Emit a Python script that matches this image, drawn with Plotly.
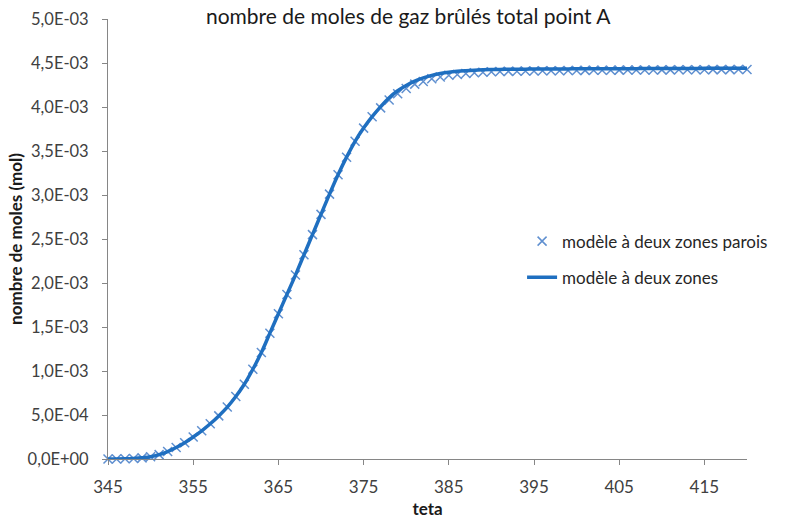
import numpy as np
import plotly.graph_objects as go

# Crank angle (degrees)
teta = list(range(345, 421))

# Burnt gas moles, two-zone model with wall losses (x 1e-3 mol)
n_parois_milli = [
    0.000, 0.000, 0.002, 0.006, 0.013, 0.025, 0.050, 0.085, 0.130, 0.185,
    0.250, 0.320, 0.400, 0.490, 0.590, 0.710, 0.850, 1.020, 1.210, 1.430,
    1.650, 1.870, 2.090, 2.320, 2.550, 2.780, 3.010, 3.230, 3.430, 3.610,
    3.760, 3.890, 3.990, 4.080, 4.150, 4.210, 4.260, 4.290, 4.320, 4.340,
    4.360, 4.370, 4.380, 4.390, 4.395, 4.400, 4.403, 4.405, 4.407, 4.409,
    4.410, 4.411, 4.412, 4.413, 4.414, 4.415, 4.416, 4.417, 4.418, 4.418,
    4.419, 4.420, 4.420, 4.421, 4.421, 4.422, 4.422, 4.423, 4.423, 4.424,
    4.424, 4.425, 4.425, 4.425, 4.426, 4.426,
]

# Burnt gas moles, two-zone model (x 1e-3 mol)
n_deux_zones_milli = [
    0.000, 0.000, 0.002, 0.006, 0.013, 0.025, 0.050, 0.085, 0.130, 0.185,
    0.250, 0.320, 0.400, 0.490, 0.590, 0.710, 0.850, 1.020, 1.210, 1.430,
    1.650, 1.870, 2.090, 2.320, 2.550, 2.780, 3.010, 3.230, 3.430, 3.610,
    3.760, 3.890, 4.005, 4.105, 4.185, 4.245, 4.295, 4.330, 4.360, 4.380,
    4.395, 4.405, 4.412, 4.418, 4.422, 4.425, 4.427, 4.428, 4.429, 4.430,
    4.431, 4.432, 4.432, 4.433, 4.433, 4.434, 4.434, 4.435, 4.435, 4.435,
    4.436, 4.436, 4.436, 4.437, 4.437, 4.437, 4.438, 4.438, 4.438, 4.438,
    4.439, 4.439, 4.439, 4.439, 4.440, 4.440,
]

x_ticks = [345, 355, 365, 375, 385, 395, 405, 415]
y_ticks = [0.0, 5e-4, 1e-3, 1.5e-3, 2e-3, 2.5e-3, 3e-3, 3.5e-3, 4e-3, 4.5e-3, 5e-3]
y_tick_text = ["0,0E+00", "5,0E-04", "1,0E-03", "1,5E-03", "2,0E-03", "2,5E-03",
               "3,0E-03", "3,5E-03", "4,0E-03", "4,5E-03", "5,0E-03"]

n_parois = np.array(n_parois_milli) * 1e-3
n_deux_zones = np.array(n_deux_zones_milli) * 1e-3

FONT = "Lato, 'Open Sans', sans-serif"
AXIS_GRAY = "#868686"
TEXT_GRAY = "#404040"

fig = go.Figure()

fig.add_trace(go.Scatter(
    x=teta, y=n_parois,
    mode="markers",
    name="modèle à deux zones parois",
    marker=dict(symbol="x-thin", size=9, line=dict(width=1.5, color="#6090d0")),
    cliponaxis=False,
    legendgroup="a",
))

fig.add_trace(go.Scatter(
    x=teta, y=n_deux_zones,
    mode="lines",
    name="modèle à deux zones",
    line=dict(color="#1f6fc0", width=3.5, shape="spline"),
    cliponaxis=False,
    legendgroup="b",
))

fig.update_layout(
    width=785, height=524,
    margin=dict(l=108, r=35, t=19, b=65),
    paper_bgcolor="white",
    plot_bgcolor="white",
    font=dict(family=FONT, color=TEXT_GRAY, size=17),
    title=dict(
        text="nombre de moles de gaz brûlés total point A",
        font=dict(family=FONT, size=21, color="#1a1a1a"),
        x=0.52, xanchor="center",
        y=0.968, yanchor="middle",
    ),
    showlegend=True,
    legend=dict(
        x=0.648, xanchor="left",
        y=0.535, yanchor="top",
        font=dict(family=FONT, size=17, color="#262626"),
        bgcolor="rgba(0,0,0,0)",
        traceorder="grouped",
        tracegroupgap=11,
    ),
    xaxis=dict(
        range=[345, 420],
        automargin=False,
        tickmode="array",
        tickvals=x_ticks,
        ticks="outside", ticklen=5, tickcolor=AXIS_GRAY,
        showline=True, linecolor=AXIS_GRAY, linewidth=1,
        showgrid=False, zeroline=False,
        tickfont=dict(family=FONT, size=17, color=TEXT_GRAY),
        ticklabelstandoff=8,
        title=dict(text="<b>teta</b>", font=dict(family=FONT, size=17, color="#1a1a1a"),
                   standoff=6),
    ),
    yaxis=dict(
        range=[0, 5e-3],
        automargin=False,
        tickmode="array",
        tickvals=y_ticks,
        ticktext=y_tick_text,
        ticks="outside", ticklen=5, tickcolor=AXIS_GRAY,
        showline=True, linecolor=AXIS_GRAY, linewidth=1,
        showgrid=False, zeroline=False,
        tickfont=dict(family=FONT, size=16.5, color=TEXT_GRAY),
        ticklabelstandoff=10,
        title=dict(text="<b>nombre de moles (mol)</b>",
                   font=dict(family=FONT, size=17, color="#1a1a1a"),
                   standoff=0),
    ),
)

fig.write_html("out.html")
